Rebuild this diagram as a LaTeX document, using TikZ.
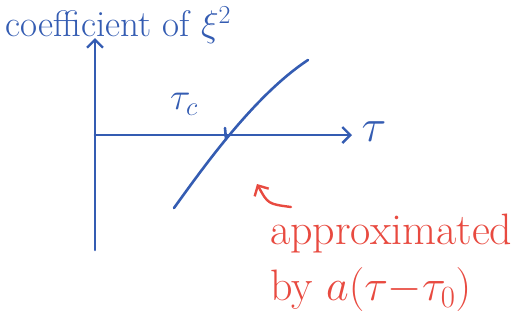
\RequirePackage{fix-cm}
\documentclass[tikz,border=0pt]{standalone}
\usetikzlibrary{arrows.meta}
\definecolor{penblue}{RGB}{52,92,178}
\definecolor{penred}{RGB}{232,74,64}
\tikzset{
  pen/.style={line width=2.6pt, penblue, line cap=round, line join=round},
  redpen/.style={line width=2.4pt, penred, line cap=round, line join=round},
  barb/.style={-{Straight Barb[length=8pt, width=16pt, line width=2.4pt]}},
}
\begin{document}
\begin{tikzpicture}[x=1pt, y=-1pt]
    \useasboundingbox (0,0) rectangle (515,327);
    % Axes
    \coordinate (O) at (95,135);
    \coordinate (Ybot) at (95,250);
    \coordinate (Ytop) at (95,38);
    \coordinate (Xend) at (352,135);
    \draw[pen, barb] (Ybot) -- (Ytop);
    \draw[pen, barb] (O) -- (Xend);

    % Labels
    \node[penblue, anchor=west, font=\fontsize{37}{40}\selectfont] (title) at (2,25) {coefficient of $\xi^2$};
    \node[penblue, font=\fontsize{46}{48}\selectfont] (tau) at (374,132) {$\tau$};
    \node[penblue, font=\fontsize{38}{40}\selectfont] (tauc) at (184,104) {$\tau_c$};

    % Coefficient curve
    \coordinate (Lstart) at (174,208);
    \coordinate (Lend) at (308,60);
    \draw[pen] (Lstart) .. controls (205,165) and (255,95) .. (Lend);
    \draw[pen] (225,128) -- (226,139);

    % Annotation
    \node[penred, anchor=north west, align=left, font=\fontsize{44}{56}\selectfont, inner sep=0pt] (note) at (270,214) {approximated\\by $a(\tau{-}\tau_0)$};
    \coordinate (tail) at (291,207);
    \coordinate (tip) at (257,184);
    \draw[redpen, barb] (tail) .. controls (268,204) .. (tip);
\end{tikzpicture}
\end{document}
